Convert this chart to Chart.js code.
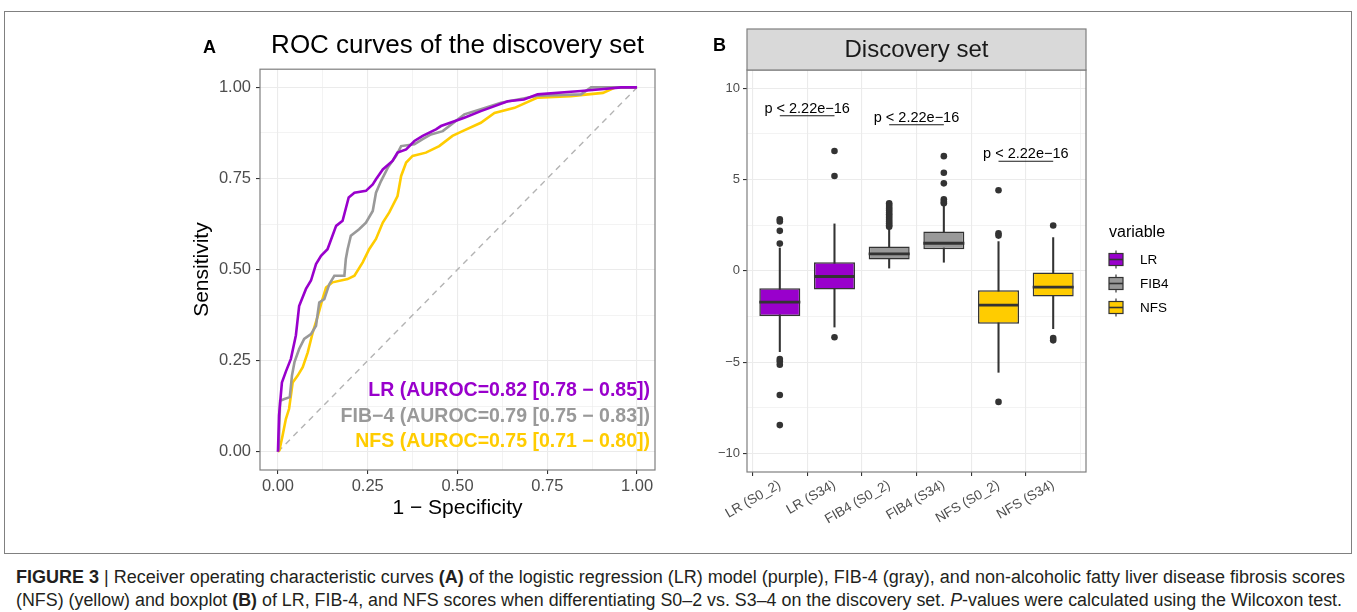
<!DOCTYPE html>
<html>
<head>
<meta charset="utf-8">
<script src="https://cdn.jsdelivr.net/npm/chart.js@4.4.1/dist/chart.umd.min.js"></script>
<style>
  body { margin: 0; background: #fff; width: 1357px; height: 612px; position: relative; overflow: hidden;
         font-family: "Liberation Sans", Arial, sans-serif; }
  #frame { position: absolute; left: 4px; top: 11px; width: 1348px; height: 543px; border: 1px solid #808080; box-sizing: border-box; }
  #rocChart { position: absolute; left: 150px; top: 20px; }
  #boxChart { position: absolute; left: 690px; top: 20px; }
  .cap { position: absolute; left: 16px; white-space: nowrap; transform-origin: 0 0;
         font-family: "Liberation Sans Narrow", "Liberation Sans", Arial, sans-serif;
         font-size: 18px; line-height: 20px; color: #231f20; }
</style>
</head>
<body>
<div id="frame"></div>
<canvas id="rocChart" width="520" height="510"></canvas>
<canvas id="boxChart" width="520" height="530"></canvas>
<div class="cap" id="cap1" data-w="1329" style="top:567px"><b>FIGURE 3</b> | Receiver operating characteristic curves <b>(A)</b> of the logistic regression (LR) model (purple), FIB-4 (gray), and non-alcoholic fatty liver disease fibrosis scores</div>
<div class="cap" id="cap2" data-w="1326" style="top:590px">(NFS) (yellow) and boxplot <b>(B)</b> of LR, FIB-4, and NFS scores when differentiating S0–2 vs. S3–4 on the discovery set. <i>P</i>-values were calculated using the Wilcoxon test.</div>
<script>
// ROC curves (1 - specificity, sensitivity)
const lrFpr = [0, 0.003, 0.011, 0.022, 0.036, 0.05, 0.059, 0.078, 0.092, 0.106, 0.12, 0.138, 0.162, 0.18, 0.197, 0.213, 0.245, 0.264, 0.273, 0.292, 0.319, 0.333, 0.357, 0.38, 0.403, 0.44, 0.454, 0.519, 0.565, 0.64, 0.685, 0.723, 0.816, 0.844, 0.9, 0.955, 1];
const lrTpr = [0, 0.1, 0.19, 0.22, 0.255, 0.32, 0.40, 0.447, 0.47, 0.515, 0.538, 0.556, 0.62, 0.634, 0.698, 0.711, 0.716, 0.734, 0.748, 0.775, 0.798, 0.821, 0.83, 0.853, 0.867, 0.885, 0.894, 0.917, 0.935, 0.962, 0.967, 0.981, 0.988, 0.99, 0.995, 1, 1];
const fibFpr = [0, 0.002, 0.006, 0.018, 0.033, 0.039, 0.046, 0.059, 0.073, 0.092, 0.106, 0.115, 0.129, 0.143, 0.157, 0.185, 0.189, 0.194, 0.203, 0.226, 0.245, 0.264, 0.273, 0.287, 0.306, 0.329, 0.343, 0.38, 0.403, 0.426, 0.459, 0.519, 0.565, 0.621, 0.723, 0.844, 0.872, 1];
const fibTpr = [0, 0.008, 0.14, 0.145, 0.15, 0.209, 0.246, 0.282, 0.31, 0.323, 0.346, 0.41, 0.419, 0.46, 0.483, 0.483, 0.529, 0.556, 0.593, 0.611, 0.629, 0.661, 0.711, 0.743, 0.78, 0.812, 0.839, 0.844, 0.858, 0.871, 0.88, 0.926, 0.94, 0.958, 0.977, 0.981, 1, 1];
const nfsFpr = [0, 0.004, 0.013, 0.022, 0.031, 0.041, 0.055, 0.069, 0.083, 0.097, 0.111, 0.124, 0.134, 0.152, 0.194, 0.213, 0.236, 0.254, 0.273, 0.292, 0.31, 0.333, 0.343, 0.357, 0.375, 0.412, 0.449, 0.486, 0.514, 0.565, 0.603, 0.659, 0.723, 0.816, 0.863, 0.905, 0.937, 1];
const nfsTpr = [0, 0.004, 0.045, 0.09, 0.118, 0.19, 0.209, 0.232, 0.273, 0.328, 0.373, 0.419, 0.451, 0.465, 0.474, 0.483, 0.52, 0.556, 0.584, 0.629, 0.657, 0.702, 0.757, 0.794, 0.812, 0.821, 0.839, 0.867, 0.88, 0.903, 0.93, 0.944, 0.972, 0.976, 0.981, 0.985, 0.999, 1];
const rocNotes = ['LR (AUROC=0.82 [0.78 − 0.85])', 'FIB−4 (AUROC=0.79 [0.75 − 0.83])', 'NFS (AUROC=0.75 [0.71 − 0.80])'];

// Boxplot summaries
const boxLabels = ['LR (S0_2)', 'LR (S34)', 'FIB4 (S0_2)', 'FIB4 (S34)', 'NFS (S0_2)', 'NFS (S34)'];
const boxGroup = ['LR', 'LR', 'FIB4', 'FIB4', 'NFS', 'NFS'];
const boxQ1 = [-2.48, -1.02, 0.62, 1.18, -2.9, -1.4];
const boxMedian = [-1.71, -0.31, 0.93, 1.51, -1.88, -0.89];
const boxQ3 = [-0.95, 0.47, 1.33, 2.15, -1.06, -0.09];
const whiskerLow = [-4.43, -3.08, 0.15, 0.47, -5.56, -3.17];
const whiskerHigh = [1.25, 2.57, 2.35, 3.55, 1.6, 1.82];
const outliers = [
  [2.82, 2.70, 2.19, 1.49, -4.83, -4.95, -5.14, -6.8, -8.45],
  [6.56, 5.19, -3.64],
  [3.7, 3.6, 3.5, 3.4, 3.3, 3.2, 3.1, 3.0, 2.9, 2.8, 2.7, 2.6, 2.5, 2.42],
  [6.28, 5.37, 4.79, 3.92, 3.79, 3.7],
  [4.41, 2.06, 1.93, -7.18],
  [2.48, -3.68, -3.81]
];
const sigPairs = [[0, 1], [2, 3], [4, 5]];
const sigLevels = [8.49, 8.0, 6.0];
const sigText = ['p < 2.22e−16', 'p < 2.22e−16', 'p < 2.22e−16'];
const legendGroups = ['LR', 'FIB4', 'NFS'];

const FONT = '"Liberation Sans", Arial, sans-serif';
const groupColor = { LR: '#9900CC', FIB4: '#999999', NFS: '#FFCC00' };
const toPoints = (xs, ys) => xs.map((x, i) => ({ x: x, y: ys[i] }));

// grid helpers (major + lighter minor lines, like ggplot theme_bw)
function gridFor(major) {
  const isMajor = c => c.tick && major.some(m => Math.abs(m - c.tick.value) < 1e-9);
  return {
    color: '#ebebeb',
    lineWidth: c => isMajor(c) ? 1.1 : 0.6,
    tickLength: 4,
    tickWidth: 1.1,
    tickColor: c => isMajor(c) ? '#333333' : 'rgba(0,0,0,0)'
  };
}

const panelBorder = {
  id: 'panelBorder',
  afterDraw(chart) {
    const { ctx, chartArea: a } = chart;
    ctx.save();
    ctx.strokeStyle = '#7f7f7f';
    ctx.lineWidth = 1.2;
    ctx.strokeRect(a.left, a.top, a.right - a.left, a.bottom - a.top);
    ctx.restore();
  }
};

// ---------- Panel A ----------
const rocMajor = [0, 0.25, 0.5, 0.75, 1];
const rocMinor = [0.125, 0.375, 0.625, 0.875];
const rocTicks = rocMajor.concat(rocMinor);

const rocExtras = {
  id: 'rocExtras',
  afterDraw(chart) {
    const { ctx, chartArea: a, scales: { y } } = chart;
    ctx.save();
    ctx.fillStyle = '#000';
    ctx.font = 'bold 18px ' + FONT;
    ctx.textBaseline = 'alphabetic';
    ctx.fillText('A', 53, 32.5);
    ctx.font = 'bold 19.5px ' + FONT;
    ctx.textAlign = 'right';
    ctx.textBaseline = 'middle';
    const colors = [groupColor.LR, groupColor.FIB4, groupColor.NFS];
    const levels = [0.167, 0.097, 0.028];
    rocNotes.forEach((t, i) => {
      ctx.fillStyle = colors[i];
      ctx.fillText(t, a.right - 5, y.getPixelForValue(levels[i]));
    });
    ctx.restore();
  }
};

new Chart(document.getElementById('rocChart'), {
  type: 'line',
  data: {
    datasets: [
      { label: 'LR', data: toPoints(lrFpr, lrTpr), borderColor: groupColor.LR, borderWidth: 2.6, pointRadius: 0, tension: 0, order: 0 },
      { label: 'FIB-4', data: toPoints(fibFpr, fibTpr), borderColor: groupColor.FIB4, borderWidth: 2.6, pointRadius: 0, tension: 0, order: 1 },
      { label: 'NFS', data: toPoints(nfsFpr, nfsTpr), borderColor: groupColor.NFS, borderWidth: 2.6, pointRadius: 0, tension: 0, order: 2 },
      { label: 'chance', data: [{ x: 0, y: 0 }, { x: 1, y: 1 }], borderColor: '#b3b3b3', borderWidth: 1.4, borderDash: [6, 5], pointRadius: 0, order: 3 }
    ]
  },
  options: {
    responsive: false,
    animation: false,
    layout: { padding: { right: 15 } },
    scales: {
      x: {
        type: 'linear', min: -0.05, max: 1.05, bounds: 'data',
        afterBuildTicks: s => { s.ticks = rocTicks.map(v => ({ value: v })); },
        afterFit: s => { s.height = 60; },
        grid: gridFor(rocMajor),
        border: { display: false },
        ticks: {
          autoSkip: false, maxRotation: 0, padding: 3, color: '#4d4d4d', font: { size: 16.5, family: FONT },
          callback: v => rocMajor.includes(v) ? v.toFixed(2) : ''
        },
        title: { display: true, text: '1 − Specificity', color: '#000', font: { size: 21, family: FONT }, padding: { top: 0, bottom: 9 } }
      },
      y: {
        type: 'linear', min: -0.05, max: 1.05, bounds: 'data',
        afterBuildTicks: s => { s.ticks = rocTicks.map(v => ({ value: v })); },
        afterFit: s => { s.width = 110; },
        grid: gridFor(rocMajor),
        border: { display: false },
        ticks: {
          autoSkip: false, padding: 5, color: '#4d4d4d', font: { size: 16.5, family: FONT },
          callback: v => rocMajor.includes(v) ? v.toFixed(2) : ''
        },
        title: { display: true, text: 'Sensitivity', color: '#000', font: { size: 21, family: FONT }, padding: { top: 40, bottom: 0 } }
      }
    },
    plugins: {
      legend: { display: false },
      tooltip: { enabled: false },
      title: {
        display: true, fullSize: false, text: 'ROC curves of the discovery set', color: '#000',
        font: { size: 26, weight: 'normal', family: FONT }, padding: { top: 10, bottom: 8 }
      }
    }
  },
  plugins: [panelBorder, rocExtras]
});

// ---------- Panel B ----------
const boxMajorY = [-10, -5, 0, 5, 10];
const boxMinorY = [-7.5, -2.5, 2.5, 7.5];
const boxIdx = boxLabels.map((_, i) => i);
const boxFill = boxGroup.map(g => groupColor[g]);
const outlierPoints = [];
outliers.forEach((vals, i) => vals.forEach(v => outlierPoints.push({ x: i, y: v })));

const boxExtras = {
  id: 'boxExtras',
  afterDraw(chart) {
    const { ctx, chartArea: a, scales: { x, y } } = chart;
    const boxes = chart.getDatasetMeta(0).data;
    ctx.save();
    // medians
    ctx.strokeStyle = '#333333';
    ctx.lineWidth = 2.8;
    boxes.forEach((el, i) => {
      const py = y.getPixelForValue(boxMedian[i]);
      ctx.beginPath();
      ctx.moveTo(el.x - el.width / 2, py);
      ctx.lineTo(el.x + el.width / 2, py);
      ctx.stroke();
    });
    // significance brackets
    ctx.lineWidth = 1.1;
    ctx.strokeStyle = '#1a1a1a';
    ctx.fillStyle = '#000';
    ctx.font = '14.5px ' + FONT;
    ctx.textAlign = 'center';
    ctx.textBaseline = 'alphabetic';
    sigPairs.forEach((p, i) => {
      const x0 = x.getPixelForValue(p[0]), x1 = x.getPixelForValue(p[1]);
      const py = y.getPixelForValue(sigLevels[i]);
      ctx.beginPath();
      ctx.moveTo(x0, py);
      ctx.lineTo(x1, py);
      ctx.stroke();
      ctx.fillText(sigText[i], (x0 + x1) / 2, py - 3);
    });
    // facet strip
    ctx.fillStyle = '#d9d9d9';
    ctx.fillRect(a.left, 9, a.right - a.left, a.top - 9);
    ctx.strokeStyle = '#7f7f7f';
    ctx.lineWidth = 1.2;
    ctx.strokeRect(a.left, 9, a.right - a.left, a.top - 9);
    ctx.fillStyle = '#1a1a1a';
    ctx.font = '24px ' + FONT;
    ctx.textBaseline = 'middle';
    ctx.fillText('Discovery set', (a.left + a.right) / 2, (9 + a.top) / 2 + 1);
    // panel tag
    ctx.fillStyle = '#000';
    ctx.font = 'bold 18px ' + FONT;
    ctx.textAlign = 'left';
    ctx.textBaseline = 'alphabetic';
    ctx.fillText('B', 23, 31);
    // legend
    const mid = (a.top + a.bottom) / 2;
    const lx = a.right + 30;
    ctx.fillStyle = '#000';
    ctx.font = '16px ' + FONT;
    ctx.textBaseline = 'middle';
    ctx.fillText('variable', a.right + 23, mid - 38.5);
    legendGroups.forEach((g, i) => {
      const cy = mid - 11.5 + i * 24;
      ctx.strokeStyle = '#333333';
      ctx.lineWidth = 1.2;
      ctx.beginPath();
      ctx.moveTo(lx, cy - 9); ctx.lineTo(lx, cy + 9);
      ctx.stroke();
      ctx.fillStyle = groupColor[g];
      ctx.fillRect(lx - 7, cy - 6, 14, 12);
      ctx.strokeRect(lx - 7, cy - 6, 14, 12);
      ctx.lineWidth = 1.6;
      ctx.beginPath();
      ctx.moveTo(lx - 7, cy); ctx.lineTo(lx + 7, cy);
      ctx.stroke();
      ctx.fillStyle = '#000';
      ctx.font = '13.5px ' + FONT;
      ctx.fillText(g, a.right + 54, cy + 0.5);
    });
    ctx.restore();
  }
};

new Chart(document.getElementById('boxChart'), {
  type: 'bar',
  data: {
    datasets: [
      {
        label: 'box', data: boxIdx.map(i => ({ x: i, y: [boxQ1[i], boxQ3[i]] })),
        backgroundColor: boxFill, borderColor: '#333333', borderWidth: 1.5, borderSkipped: false,
        barPercentage: 0.75, categoryPercentage: 1, grouped: false, order: 1
      },
      {
        label: 'whisker', data: boxIdx.map(i => ({ x: i, y: [whiskerLow[i], whiskerHigh[i]] })),
        backgroundColor: '#333333', barThickness: 1.4, grouped: false, order: 2
      },
      {
        type: 'scatter', label: 'outliers', data: outlierPoints,
        pointRadius: 3.3, backgroundColor: '#333333', borderWidth: 0, order: 0
      }
    ]
  },
  options: {
    responsive: false,
    animation: false,
    layout: { padding: { top: 50, right: 124 } },
    scales: {
      x: {
        type: 'linear', min: -0.6, max: 5.6, bounds: 'data', offset: false,
        afterBuildTicks: s => { s.ticks = boxIdx.map(v => ({ value: v })); },
        afterFit: s => { s.height = 78; },
        grid: gridFor(boxIdx),
        border: { display: false },
        ticks: {
          autoSkip: false, minRotation: 30, maxRotation: 30, padding: 1, color: '#4d4d4d',
          font: { size: 13.5, family: FONT }, callback: v => boxLabels[v]
        }
      },
      y: {
        type: 'linear', min: -11.02, max: 11.0, bounds: 'data',
        afterBuildTicks: s => { s.ticks = boxMajorY.concat(boxMinorY).map(v => ({ value: v })); },
        afterFit: s => { s.width = 57; },
        grid: gridFor(boxMajorY),
        border: { display: false },
        ticks: {
          autoSkip: false, padding: 3, color: '#4d4d4d', font: { size: 13, family: FONT },
          callback: v => boxMajorY.includes(v) ? String(v).replace('-', '−') : ''
        }
      }
    },
    plugins: { legend: { display: false }, tooltip: { enabled: false } }
  },
  plugins: [panelBorder, boxExtras]
});

// fit caption lines to the figure width
document.querySelectorAll('.cap').forEach(el => {
  const w = el.getBoundingClientRect().width;
  el.style.transform = 'scaleX(' + (Number(el.dataset.w) / w) + ')';
});
</script>
</body>
</html>
